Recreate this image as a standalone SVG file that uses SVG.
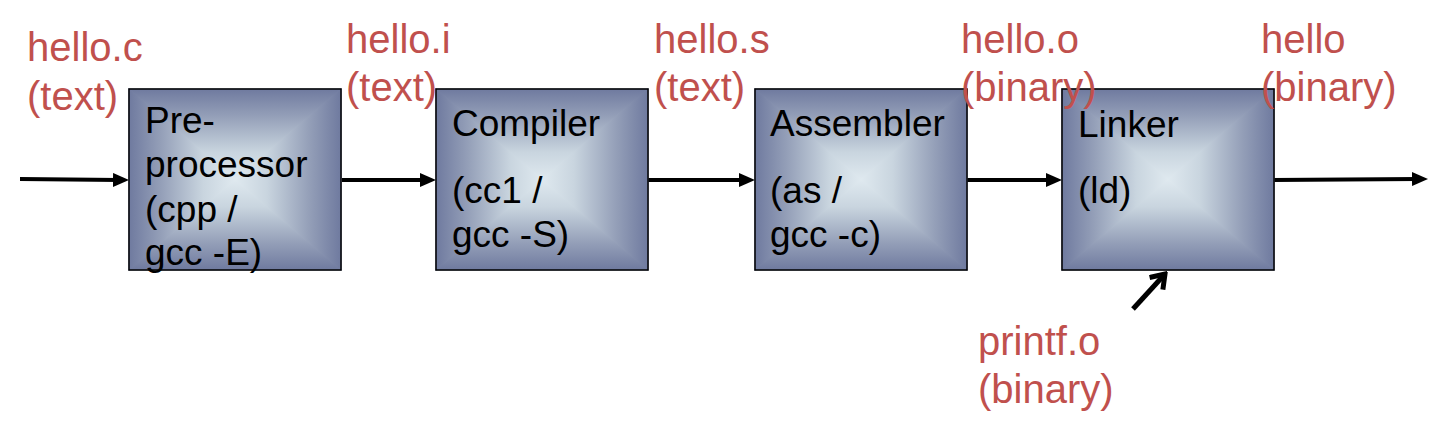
<svg xmlns="http://www.w3.org/2000/svg" xmlns:xlink="http://www.w3.org/1999/xlink" width="1443" height="442" viewBox="0 0 1443 442">
<style>
.lbl{font-family:"Liberation Sans",Arial,sans-serif;font-size:40px;fill:#c0504d}
.box{font-family:"Liberation Sans",Arial,sans-serif;font-size:37px;fill:#000}
.edge{stroke:#000;stroke-width:1.5;fill:none}
.con{stroke:#000;stroke-width:4;fill:none}
.tri{stroke-width:1.2;stroke-linejoin:round}
</style>
<defs>
<linearGradient id="gT" x1="0" y1="0" x2="0" y2="1"><stop offset="0" stop-color="#6f7a9f"/><stop offset="0.3" stop-color="#949fb8"/><stop offset="0.7" stop-color="#c9d5df"/><stop offset="1" stop-color="#dfe9ef"/></linearGradient>
<linearGradient id="gB" href="#gT" x1="0" y1="1" x2="0" y2="0"/>
<linearGradient id="gL" href="#gT" x1="0" y1="0" x2="1" y2="0"/>
<linearGradient id="gR" href="#gT" x1="1" y1="0" x2="0" y2="0"/>
<g id="fill">
<polygon points="0,0 212,0 106,90.5" fill="url(#gT)" stroke="url(#gT)" class="tri"/>
<polygon points="0,181 212,181 106,90.5" fill="url(#gB)" stroke="url(#gB)" class="tri"/>
<polygon points="0,0 0,181 106,90.5" fill="url(#gL)" stroke="url(#gL)" class="tri"/>
<polygon points="212,0 212,181 106,90.5" fill="url(#gR)" stroke="url(#gR)" class="tri"/>
<rect x="0" y="0" width="212" height="181" class="edge"/>
</g>
<marker id="tri" viewBox="0 0 16 14" refX="6" refY="7" markerWidth="16" markerHeight="14" markerUnits="userSpaceOnUse" orient="auto">
<path d="M0,0 L16,7 L0,14 z" fill="#000"/>
</marker>
<marker id="open" viewBox="0 0 18 22" refX="15" refY="11" markerWidth="18" markerHeight="22" markerUnits="userSpaceOnUse" orient="auto">
<path d="M2,2 L15,11 L2,20" fill="none" stroke="#000" stroke-width="5"/>
</marker>
</defs>

<g id="connectors">
<line x1="20" y1="179" x2="119" y2="180" class="con" marker-end="url(#tri)"/>
<line x1="342" y1="180" x2="426" y2="180" class="con" marker-end="url(#tri)"/>
<line x1="648" y1="180" x2="745" y2="180" class="con" marker-end="url(#tri)"/>
<line x1="967" y1="180" x2="1052" y2="180" class="con" marker-end="url(#tri)"/>
<line x1="1273" y1="180" x2="1418" y2="179" class="con" marker-end="url(#tri)"/>
<line x1="1133" y1="309" x2="1165" y2="274" class="con" style="stroke-width:5" marker-end="url(#open)"/>
</g>

<g id="preprocessor">
<use xlink:href="#fill" x="129" y="89"/>
<text class="box" x="145" y="133">Pre-</text>
<text class="box" x="145" y="177">processor</text>
<text class="box" x="145" y="222">(cpp /</text>
<text class="box" x="145" y="265">gcc -E)</text>
</g>
<g id="compiler">
<use xlink:href="#fill" x="436" y="89"/>
<text class="box" x="452" y="136">Compiler</text>
<text class="box" x="452" y="203">(cc1 /</text>
<text class="box" x="452" y="247">gcc -S)</text>
</g>
<g id="assembler">
<use xlink:href="#fill" x="755" y="89"/>
<text class="box" x="770" y="136">Assembler</text>
<text class="box" x="770" y="203">(as /</text>
<text class="box" x="770" y="247">gcc -c)</text>
</g>
<g id="linker">
<use xlink:href="#fill" x="1062" y="89"/>
<text class="box" x="1078" y="137">Linker</text>
<text class="box" x="1078" y="203">(ld)</text>
</g>

<g id="labels">
<text class="lbl" x="27" y="61">hello.c</text>
<text class="lbl" x="27" y="110">(text)</text>
<text class="lbl" x="346" y="53">hello.i</text>
<text class="lbl" x="346" y="101">(text)</text>
<text class="lbl" x="654" y="53">hello.s</text>
<text class="lbl" x="654" y="101">(text)</text>
<text class="lbl" x="961" y="53">hello.o</text>
<text class="lbl" x="961" y="101">(binary)</text>
<text class="lbl" x="1261" y="53">hello</text>
<text class="lbl" x="1261" y="101">(binary)</text>
<text class="lbl" x="978" y="355">printf.o</text>
<text class="lbl" x="978" y="403">(binary)</text>
</g>
</svg>
